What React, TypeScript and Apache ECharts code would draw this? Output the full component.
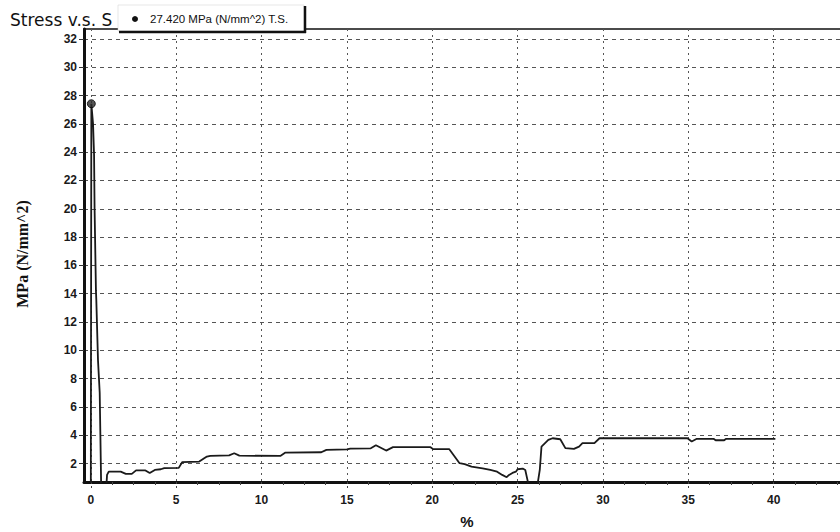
import React, { useEffect, useRef } from "react";
import * as echarts from "echarts";

// Strain (%) and stress (MPa)
const strain = [
  0, 0.03, 0.13, 0.19, 0.22, 0.3, 0.32, 0.42, 0.52, 0.56, 0.61, 0.89, 0.95, 1.05, 1.75, 2.05, 2.4, 2.65,
  3.2, 3.45, 3.75, 4.1, 4.3, 5.15, 5.35, 6.35, 6.8, 7.0, 8.1, 8.4, 8.7, 11.1, 11.4, 13.5, 13.8, 15.0,
  15.2, 16.4, 16.7, 17.3, 17.7, 19.9, 20.05, 21.0, 21.6, 21.9, 22.3, 22.95, 23.4, 23.8, 24.1, 24.36,
  24.5, 24.7, 24.9, 25.0, 25.3, 25.45, 25.6, 25.7, 26.1, 26.3, 26.4, 26.8, 27.05, 27.5, 27.8, 28.3,
  28.6, 28.8, 29.5, 29.8, 34.95, 35.2, 35.5, 36.5, 36.6, 37.1, 37.2, 40.1,
];
const stress = [
  0, 27.42, 26.0, 23.8, 20.0, 14.2, 13.6, 9.3, 7.0, 4.0, 0, 0, 1.2, 1.43, 1.43, 1.27, 1.27, 1.52,
  1.52, 1.33, 1.55, 1.6, 1.68, 1.7, 2.1, 2.14, 2.5, 2.55, 2.58, 2.73, 2.56, 2.54, 2.78, 2.8, 2.97, 3.0,
  3.06, 3.08, 3.3, 2.92, 3.16, 3.16, 3.02, 3.02, 2.03, 1.96, 1.79, 1.67, 1.55, 1.43, 1.2, 1.04,
  1.2, 1.34, 1.43, 1.6, 1.65, 1.55, 0.73, 0, 0, 1.55, 3.2, 3.67, 3.79, 3.72, 3.09, 3.04,
  3.2, 3.44, 3.44, 3.79, 3.79, 3.56, 3.75, 3.74, 3.65, 3.65, 3.74, 3.74,
];
const peakStrain = 0.03;
const peakStress = 27.42;

const yTicks = [2, 4, 6, 8, 10, 12, 14, 16, 18, 20, 22, 24, 26, 28, 30, 32];
const xTicks = [0, 5, 10, 15, 20, 25, 30, 35, 40, 45];
const xLabels = [0, 5, 10, 15, 20, 25, 30, 35, 40];
const xMinorTicks = [
  1.25, 2.5, 3.75, 6.25, 7.5, 8.75, 11.25, 12.5, 13.75, 16.25, 17.5, 18.75, 21.25, 22.5, 23.75,
  26.25, 27.5, 28.75, 31.25, 32.5, 33.75, 36.25, 37.5, 38.75, 41.25, 42.5, 43.75,
];

const titleText = "Stress v.s. S";
const legendText = "27.420 MPa (N/mm^2) T.S.";
const yName = "MPa (N/mm^2)";
const xName = "%";

const SANS = "'Liberation Sans', Arial, sans-serif";

export default function App() {
  const ref = useRef<HTMLDivElement>(null);

  useEffect(() => {
    document.body.style.margin = "0";
    if (!ref.current) return;
    const chart = echarts.init(ref.current, null, { renderer: "svg" });
    const labelStyle = {
      fontSize: 12,
      fontWeight: "bold" as const,
      color: "#1a1a1a",
      fontFamily: SANS,
    };
    const gridDash = { color: "#555", width: 1, type: [4, 4] as number[] };

    const option: any = {
      animation: false,
      backgroundColor: "#ffffff",
      grid: {
        left: 84,
        top: 29,
        width: 775,
        height: 453,
        show: true,
        borderColor: "#111",
        borderWidth: 1.5,
        outerBoundsMode: "none",
        containLabel: false,
      },
      xAxis: [
        {
          type: "value",
          min: -0.4,
          max: 45,
          position: "bottom",
          axisLine: { show: true, onZero: false, lineStyle: { color: "#111", width: 3 } },
          axisTick: {
            show: true,
            customValues: xTicks,
            length: 8,
            lineStyle: { color: "#444", width: 1, type: [2, 2] },
          },
          axisLabel: { ...labelStyle, customValues: xLabels, margin: 12 },
          splitLine: { show: true, lineStyle: { ...gridDash, type: [2, 4] } },
        },
        {
          type: "value",
          min: -0.4,
          max: 45,
          position: "bottom",
          axisLine: { show: false },
          axisTick: {
            show: true,
            customValues: xMinorTicks,
            length: 3,
            lineStyle: { color: "#444", width: 1 },
          },
          axisLabel: { show: false },
          splitLine: { show: false },
        },
      ],
      yAxis: {
        type: "value",
        min: 0.7,
        max: 32.7,
        axisLine: { show: true, onZero: false, lineStyle: { color: "#111", width: 3 } },
        axisTick: {
          show: true,
          customValues: yTicks,
          length: 5,
          lineStyle: { color: "#333", width: 1 },
        },
        axisLabel: { ...labelStyle, customValues: yTicks, margin: 7 },
        splitLine: { show: true, lineStyle: gridDash },
      },
      series: [
        {
          type: "line",
          xAxisIndex: 0,
          data: strain.map((x, i) => [x, stress[i]]),
          symbol: "none",
          showSymbol: false,
          clip: true,
          lineStyle: { color: "#1a1a1a", width: 1.8 },
          z: 3,
        },
        {
          type: "scatter",
          xAxisIndex: 0,
          data: [[peakStrain, peakStress]],
          symbol: "circle",
          symbolSize: 8,
          itemStyle: { color: "#2a2a2a", borderColor: "#000", borderWidth: 1 },
          z: 4,
        },
      ],
      graphic: [
        {
          type: "text",
          x: 10,
          y: 20,
          z: 10,
          style: {
            text: titleText,
            fill: "#111",
            font: "17px 'DejaVu Sans', sans-serif",
            align: "left",
            verticalAlign: "middle",
          },
        },
        {
          type: "rect",
          z: 11,
          shape: { x: 118, y: 5, width: 186, height: 26 },
          style: { fill: "#ffffff", stroke: "#ccc", lineWidth: 0.5 },
        },
        {
          type: "line",
          z: 12,
          shape: { x1: 119, y1: 32, x2: 306, y2: 32 },
          style: { stroke: "#111", lineWidth: 2.5 },
        },
        {
          type: "line",
          z: 12,
          shape: { x1: 305, y1: 6, x2: 305, y2: 33 },
          style: { stroke: "#111", lineWidth: 2.5 },
        },
        {
          type: "circle",
          z: 12,
          shape: { cx: 135, cy: 19, r: 3 },
          style: { fill: "#111" },
        },
        {
          type: "text",
          x: 150,
          y: 19,
          z: 12,
          style: {
            text: legendText,
            fill: "#111",
            font: "11.5px 'Liberation Sans', Arial, sans-serif",
            align: "left",
            verticalAlign: "middle",
          },
        },
        {
          type: "text",
          x: 22,
          y: 254,
          rotation: Math.PI / 2,
          z: 10,
          style: {
            text: yName,
            fill: "#111",
            font: "bold 16px 'Liberation Serif', serif",
            align: "center",
            verticalAlign: "middle",
          },
        },
        {
          type: "text",
          x: 467,
          y: 521,
          z: 10,
          style: {
            text: xName,
            fill: "#111",
            font: "bold 15px 'Liberation Sans', Arial, sans-serif",
            align: "center",
            verticalAlign: "middle",
          },
        },
      ],
    };
    chart.setOption(option);
    return () => chart.dispose();
  }, []);

  return <div ref={ref} style={{ width: 840, height: 532 }} />;
}
